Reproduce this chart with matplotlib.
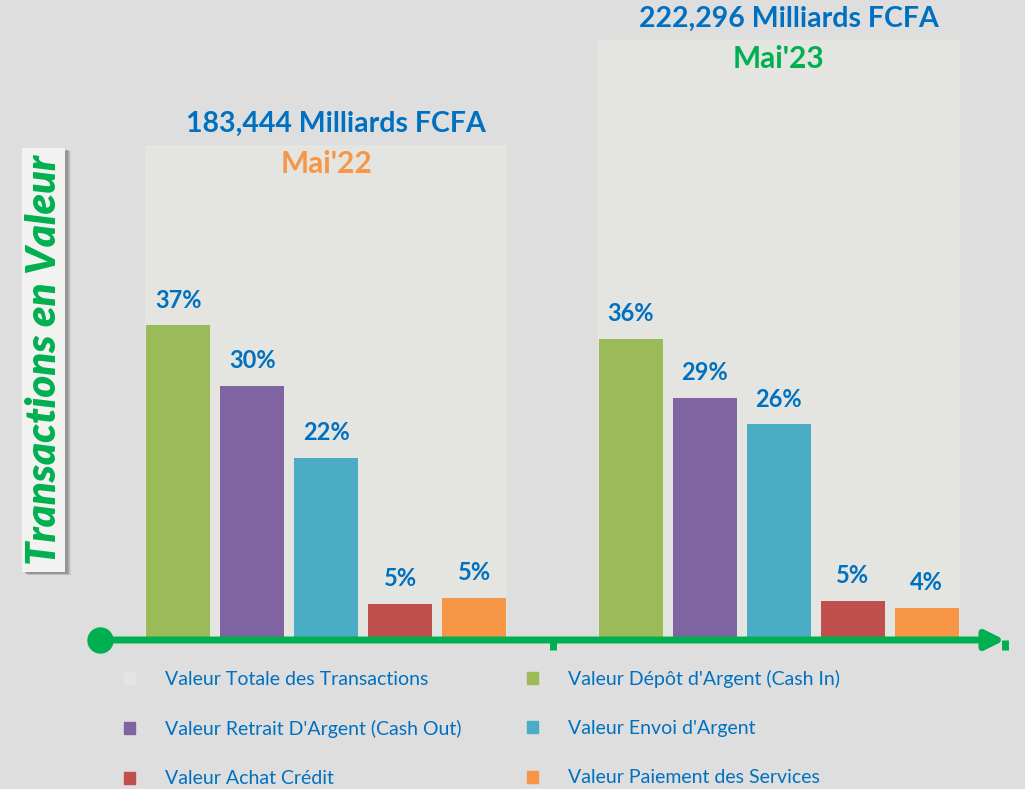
import matplotlib.pyplot as plt
import numpy as np
from matplotlib.patches import Patch, Rectangle

# data
periods = ["Mai'22", "Mai'23"]
totals = [183.444, 222.296]
total_labels = ["183,444 Milliards FCFA", "222,296 Milliards FCFA"]
period_colors = ["#F79646", "#00B050"]

series = ["Valeur Dépôt d'Argent (Cash In)", "Valeur Retrait D'Argent (Cash Out)",
          "Valeur Envoi d'Argent", "Valeur Achat Crédit", "Valeur Paiement des Services"]
shares_22 = [37.2, 30.0, 21.5, 4.3, 5.0]
shares_23 = [35.6, 28.6, 25.5, 4.6, 3.8]
labels_22 = ["37%", "30%", "22%", "5%", "5%"]
labels_23 = ["36%", "29%", "26%", "5%", "4%"]
colors = ["#9BBB59", "#8064A2", "#4BACC6", "#C0504D", "#F79646"]

bg = "#DEDEDE"
panel = "#E4E5E0"
blue = "#0070C0"
green = "#00B050"
plt.rcParams['font.family'] = ['Lato', 'DejaVu Sans']

fig = plt.figure(figsize=(10.25, 7.89), dpi=100, facecolor=bg)
W, H = 1025, 789
ax = fig.add_axes([100 / W, (H - 640) / H, 905 / W, 640 / H])
ax.set_facecolor("none")

x = np.arange(len(periods))
ax.set_xlim(-0.5, 1.5)
ax.set_ylim(0, 237.1)

# total value panels behind the bars
ax.bar(x, totals, width=0.8, color=panel, zorder=1)
for xi, t, tl, p, pc in zip(x, totals, total_labels, periods, period_colors):
    ax.annotate(tl, (xi, t), xytext=(7, 15), textcoords="offset points",
                ha="center", va="center", fontsize=20.5, fontweight="bold", color=blue)
    ax.annotate(p, (xi, t), xytext=(0, -14), textcoords="offset points",
                ha="center", va="center", fontsize=21.5, fontweight="bold", color=pc)

ax2 = ax.twinx()
ax2.set_ylim(0, 75.7)
step = 0.1635
for i, (c, a, b, la, lb) in enumerate(zip(colors, shares_22, shares_23, labels_22, labels_23)):
    pos = x + (i - 2) * step
    bars = ax2.bar(pos, [a, b], width=0.1414, color=c, zorder=2)
    for rect, lab in zip(bars, [la, lb]):
        ax2.annotate(lab, (rect.get_x() + rect.get_width() / 2, rect.get_height()),
                     xytext=(0, 10), textcoords="offset points", ha="center", va="bottom",
                     fontsize=17, fontweight="bold", color=blue)

for a_ in (ax, ax2):
    for s in a_.spines.values():
        s.set_visible(False)
    a_.set_yticks([])
ax.set_xticks([-0.5, 0.5, 1.5])
ax.set_xticklabels([])
ax.tick_params(axis="x", direction="out", length=7, width=5, color=green)

# green axis with arrow
ax2.annotate("", xy=(1.5, 0), xytext=(-0.5, 0),
             arrowprops=dict(arrowstyle="-|>,head_length=1.1,head_width=0.55",
                             color=green, lw=5, shrinkA=0, shrinkB=0),
             annotation_clip=False, zorder=5)
ax2.plot([-0.5], [0], marker="o", markersize=18, color=green, clip_on=False, zorder=6)

# vertical label box with a soft shadow on the right
for k, al in enumerate([0.12, 0.18, 0.25, 0.35]):
    off = 6 - k
    fig.patches.append(Rectangle(((22 + off) / W, (H - 572 - off / 2) / H), 43 / W, 424 / H,
                                 transform=fig.transFigure, facecolor="#707070",
                                 edgecolor="none", alpha=al))
fig.patches.append(Rectangle((22 / W, (H - 572) / H), 43 / W, 424 / H, transform=fig.transFigure,
                             facecolor="#F2F2F0", edgecolor="none"))
fig.text(44 / W, (H - 360) / H, "Transactions en Valeur", rotation=90, ha="center", va="center",
         fontsize=30, fontweight="heavy", fontstyle="italic", color=green)

# legend
handles = [Patch(color=panel)] + [Patch(color=c) for c in colors]
names = ["Valeur Totale des Transactions"] + series
order = [0, 2, 4, 1, 3, 5]
fig.legend([handles[k] for k in order], [names[k] for k in order], ncol=2,
           loc="upper left", bbox_to_anchor=(116 / W, (H - 662) / H), frameon=False,
           borderaxespad=0, fontsize=14, labelcolor=blue, handlelength=0.57,
           handleheight=0.57, handletextpad=1.55, labelspacing=1.66, columnspacing=3.35)

fig.savefig("out.png", dpi=100, facecolor=bg)
